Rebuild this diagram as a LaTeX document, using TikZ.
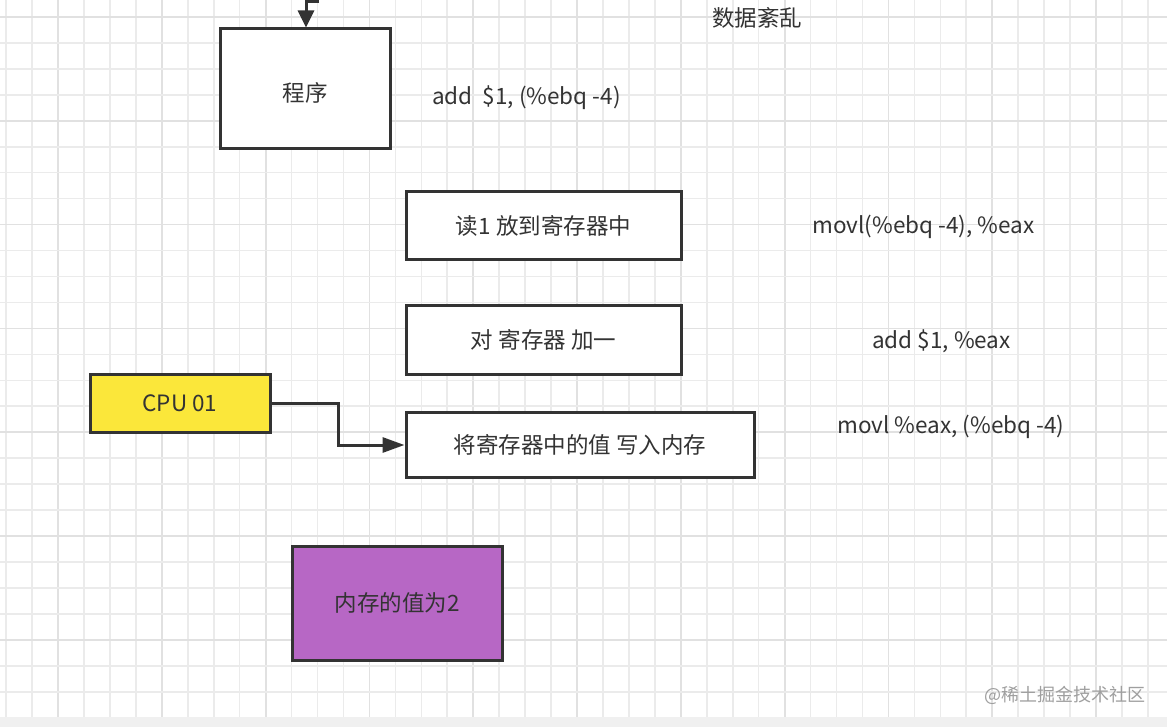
\documentclass[tikz,border=0pt]{standalone}
\usepackage{fontspec}
\setmainfont{Noto Sans CJK SC}
\usetikzlibrary{arrows.meta}
\definecolor{ink}{HTML}{333333}
\definecolor{gridminor}{HTML}{EBEBEB}
\definecolor{gridmajor}{HTML}{E1E1E1}
\definecolor{cpuyellow}{HTML}{FBE73A}
\definecolor{mempurple}{HTML}{B767C5}
\definecolor{band}{HTML}{F0F0F0}
\tikzset{
  box/.style={draw=ink, line width=3pt, fill=white, text=ink, inner sep=0pt,
    font=\fontsize{22.5}{26}\selectfont},
  label/.style={text=ink, inner sep=0pt, font=\fontsize{22.5}{26}\selectfont},
  conn/.style={draw=ink, line width=3pt},
}
\begin{document}
\begin{tikzpicture}[x=1pt,y=-1pt]
\useasboundingbox (0,0) rectangle (1167,727);
\fill[white] (0,0) rectangle (1167,727);
% grid
\foreach \k in {0,...,44}{
  \pgfmathsetmacro{\xx}{6.1+25.95*\k}
  \pgfmathtruncatemacro{\mm}{mod(\k+2,4)}
  \ifnum\mm=0
    \draw[gridmajor, line width=1.8pt] (\xx,0) -- (\xx,717);
  \else
    \draw[gridminor, line width=1.6pt] (\xx,0) -- (\xx,717);
  \fi
}
\foreach \k in {1,...,28}{
  \pgfmathsetmacro{\yy}{-8.95+25.95*\k}
  \pgfmathtruncatemacro{\mm}{mod(\k,4)}
  \ifnum\mm=1
    \draw[gridmajor, line width=1.8pt] (0,\yy) -- (1167,\yy);
  \else
    \draw[gridminor, line width=1.6pt] (0,\yy) -- (1167,\yy);
  \fi
}
\fill[band] (0,717) rectangle (1167,727);

% boxes
\node[box, minimum width=170pt, minimum height=120pt] (prog) at (305,89) {\raisebox{-3pt}[\height][0pt]{程序}};
\node[box, minimum width=275pt, minimum height=68pt] (r1) at (543.5,226) {读1 放到寄存器中};
\node[box, minimum width=275pt, minimum height=68pt] (r2) at (543.5,340) {对 寄存器 加一};
\node[box, minimum width=348pt, minimum height=65pt] (w) at (580,444.5) {将寄存器中的值 写入内存};
\node[box, fill=cpuyellow, minimum width=180pt, minimum height=58pt] (cpu) at (180,403) {CPU 01};
\node[box, fill=mempurple, minimum width=210pt, minimum height=114pt] (mem) at (397,603) {内存的值为2};

% labels
\node[label] (title) at (757,18) {数据紊乱};
\node[label, anchor=west] (c0) at (432,98) {add\ \ \$1, (\%ebq -4)};
\node[label, anchor=west] (c1) at (812,227) {movl(\%ebq -4), \%eax};
\node[label, anchor=west] (c2) at (872,341) {add \$1, \%eax};
\node[label, anchor=west] (c3) at (837,427) {movl \%eax, (\%ebq -4)};
\node[text=gray!75, inner sep=0pt, font=\fontsize{18}{22}\selectfont, anchor=east] (wm) at (1146,695) {@稀土掘金技术社区};

% connectors
\coordinate (topin) at (319,2);
\draw[conn, -{Triangle[length=17pt,width=16pt]}] (topin) -- (306,2) -- (prog.north -| 306,0);
\draw[conn, -{Triangle[length=22pt,width=15pt]}] (cpu.east) -- (338,403) -- (338,445) -- (w.west |- 0,445);
\end{tikzpicture}
\end{document}
